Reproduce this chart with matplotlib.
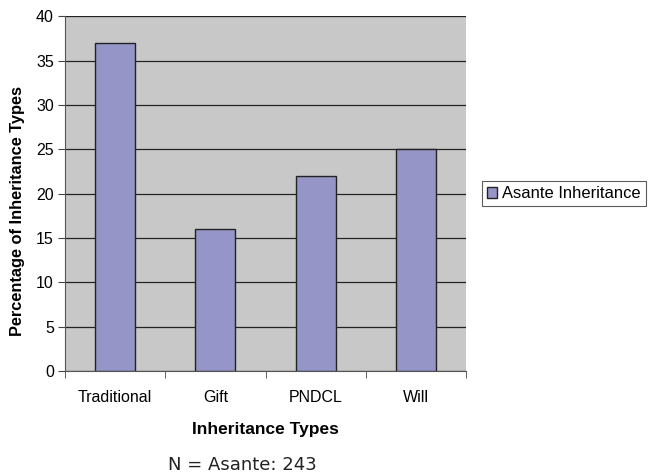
import matplotlib
matplotlib.use("Agg")
import matplotlib.pyplot as plt
import numpy as np

categories = ["Traditional", "Gift", "PNDCL", "Will"]
values = [37, 16, 22, 25]
series_name = "Asante Inheritance"
yticks = [0, 5, 10, 15, 20, 25, 30, 35, 40]

plt.rcParams['font.family'] = ['Liberation Sans', 'DejaVu Sans']

fig = plt.figure(figsize=(6.5, 4.76), dpi=100)
ax = fig.add_axes([0.1, 0.2206, 0.617, 0.7454])
ax.set_facecolor("#C8C8C8")

x = np.arange(len(categories))
ax.bar(x, values, width=0.4, color="#9595C8", edgecolor="#222222", linewidth=1.0,
       label=series_name, zorder=3)
ax.set_xlim(-0.5, len(categories) - 0.5)
ax.set_ylim(0, 40)
ax.set_yticks(yticks)
ax.set_yticklabels([str(t) for t in yticks], fontsize=11.5)
ax.yaxis.grid(True, color="#222222", linewidth=0.9, zorder=1)
ax.set_axisbelow(True)

ax.set_xticks(x)
ax.set_xticklabels(categories, fontsize=11.5)
ax.tick_params(axis='x', which='major', length=0, pad=14)
ax.set_xticks(np.arange(-0.5, len(categories)), minor=True)
ax.tick_params(axis='x', which='minor', length=5, color="#444444")
ax.tick_params(axis='y', length=5, color="#444444", pad=3)

for s in ["top", "right"]:
    ax.spines[s].set_visible(False)
for s in ["left", "bottom"]:
    ax.spines[s].set_color("#555555")

ax.set_ylabel("Percentage of Inheritance Types", fontsize=11.8, fontweight="bold")
ax.yaxis.set_label_coords(-0.1, 0.45)
ax.set_xlabel("Inheritance Types", fontsize=12.5, fontweight="bold", labelpad=12)

leg = ax.legend(loc="center left", bbox_to_anchor=(1.04, 0.5), fontsize=11.9,
                frameon=True, fancybox=False, edgecolor="#333333",
                handlelength=0.6, handleheight=0.6, handletextpad=0.3,
                borderpad=0.3, borderaxespad=0)
leg.get_frame().set_linewidth(0.8)

fig.text(0.373, 0.024, "N = Asante: 243", fontsize=13, family="DejaVu Sans",
         color="#222222", ha="center", va="center")

fig.savefig("out.png", dpi=100)
